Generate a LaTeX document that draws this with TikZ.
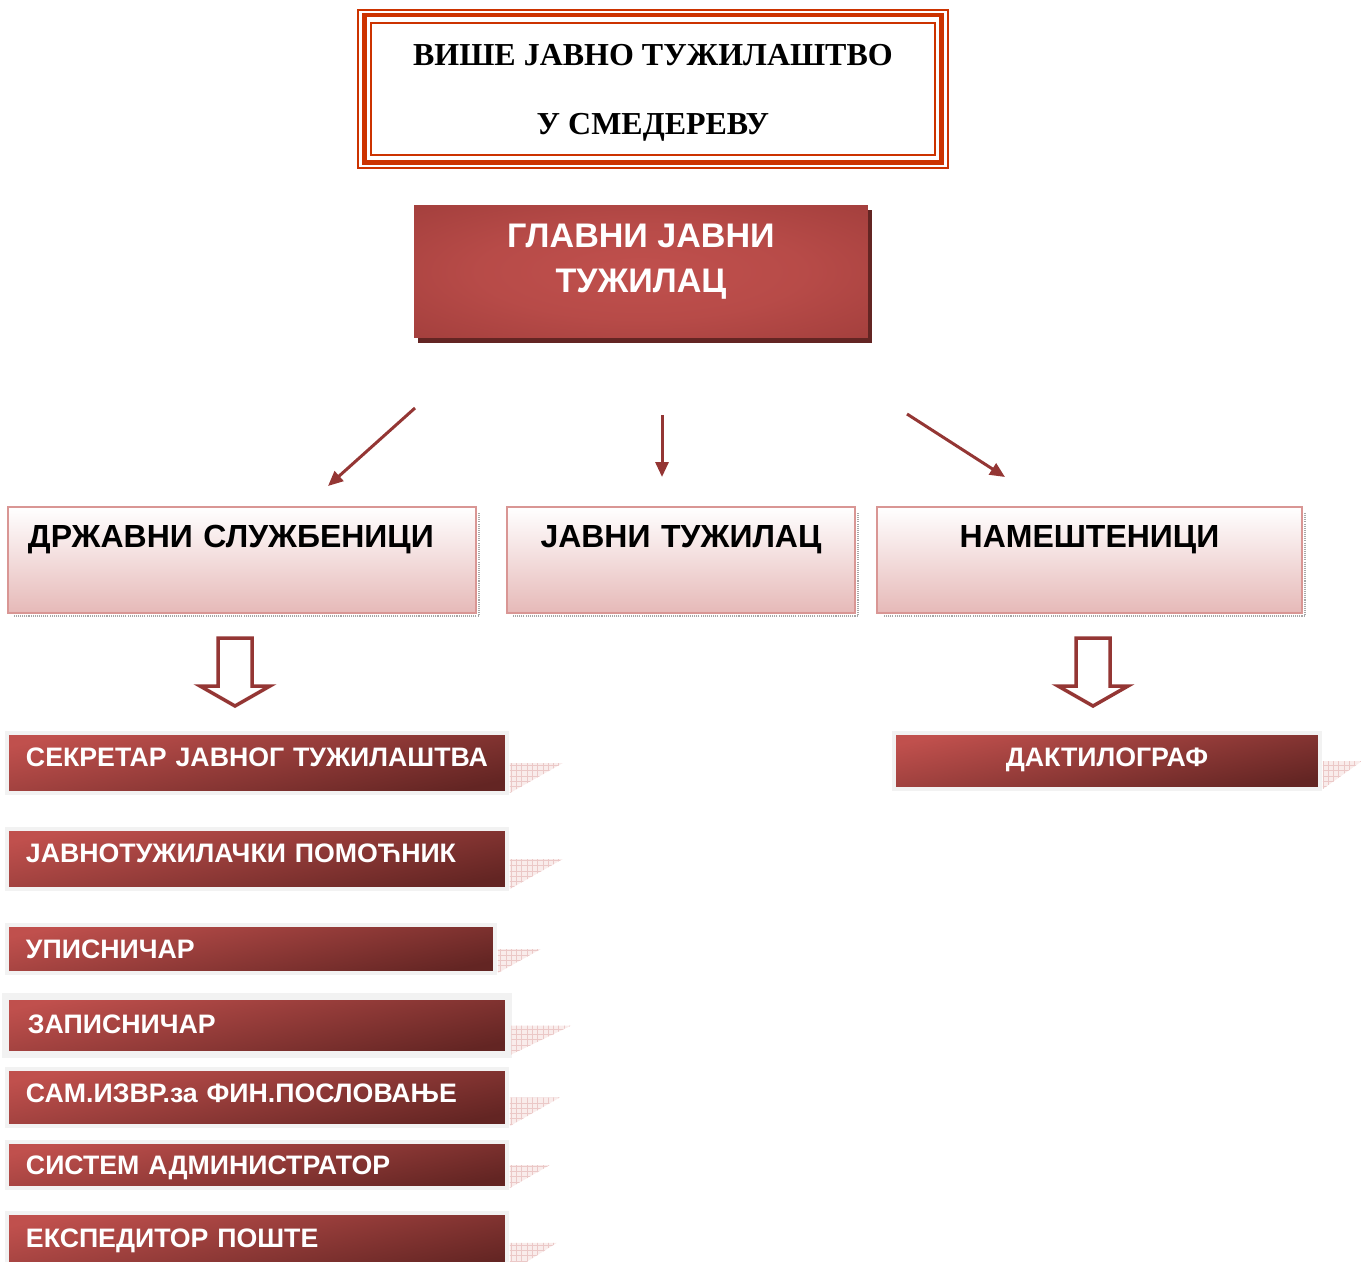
\documentclass[tikz,border=0pt]{standalone}
\usepackage{fontspec}
\setmainfont{Liberation Serif}
\setsansfont{Liberation Sans}
\usetikzlibrary{arrows.meta,calc,patterns,shadows}

\definecolor{titlered}{HTML}{CC3300}
\definecolor{chieflight}{HTML}{C0504D}
\definecolor{chiefdark}{HTML}{943634}
\definecolor{chiefshadow}{HTML}{632523}
\definecolor{groupbottom}{HTML}{E6B9B8}
\definecolor{groupedge}{HTML}{D99694}
\definecolor{barframe}{HTML}{F2F2F2}
\definecolor{foldfill}{HTML}{F9ECEB}
\definecolor{foldgrid}{HTML}{EBC8C7}

\pgfdeclareradialshading{chiefglow}{\pgfpoint{0bp}{0bp}}{color(0bp)=(chieflight); color(18bp)=(chieflight!80!chiefdark); color(50bp)=(chiefdark)}

\tikzset{
  every node/.append style={outer sep=0pt},
  titlebox/.style={draw=titlered, line width=0.1cm, minimum width=11.56cm, anchor=north west,
    inner ysep=0pt, text height=1.58cm, text depth=1.38cm, font=\bfseries\fontsize{18.2}{39}\selectfont},
  titleline/.style={draw=titlered, line width=0.035cm},
  chiefbox/.style={shading=chiefglow, minimum width=9.08cm, anchor=north west, inner ysep=0pt,
    text height=1.30cm, text depth=1.36cm, text=white, font=\sffamily\bfseries\fontsize{19.4}{25.5}\selectfont,
    drop shadow={shadow xshift=0.08cm, shadow yshift=-0.1cm, fill=chiefshadow, opacity=1}},
  groupbox/.style={draw=groupedge, line width=0.05cm, top color=white, bottom color=groupbottom,
    anchor=north west, inner ysep=0pt, text height=0.81cm, text depth=1.31cm,
    font=\sffamily\bfseries\fontsize{18.2}{22}\selectfont},
  groupshadow/.style={draw=gray!70, line width=0.04cm, dash pattern=on 0.6pt off 0.6pt},
  rolebar/.style={draw=barframe, line width=0.08cm, top color=chieflight, bottom color=chiefshadow,
    shading angle=12, anchor=north west, inner xsep=0.38cm, inner ysep=0pt, text width=9.24cm,
    text height=0.67cm, align=left, text=white, font=\sffamily\bfseries\fontsize{15.2}{17}\selectfont},
  fold/.style={preaction={fill=foldfill}, pattern=grid, pattern color=foldgrid},
  linkarrow/.style={draw=chiefdark, line width=0.06cm, -{Triangle[length=0.3cm,width=0.26cm]}},
  blockarrow/.style={draw=chiefdark, line width=0.07cm, fill=white, line join=miter}
}

\begin{document}
\begin{tikzpicture}[x=0.02cm, y=-0.02cm]
  \useasboundingbox (0,0) rectangle (1361,1261);

  % Title
  \node[titlebox] (title) at (364,15) {\begin{tabular}{@{}c@{}}ВИШЕ ЈАВНО ТУЖИЛАШТВО\\У СМЕДЕРЕВУ\end{tabular}};
  \draw[titleline] ($(title.north west)+(-6,-5)$) rectangle ($(title.south east)+(6,5)$);
  \draw[titleline] ($(title.north west)+(7,8)$) rectangle ($(title.south east)+(-7,-8)$);

  % Head
  \node[chiefbox] (chief) at (414,205) {\begin{tabular}{@{}c@{}}ГЛАВНИ ЈАВНИ\\ТУЖИЛАЦ\end{tabular}};

  % Groups
  \node[groupbox, text width=8.56cm, inner xsep=0.4cm, align=left] (civil) at (8,507) {ДРЖАВНИ СЛУЖБЕНИЦИ};
  \node[groupbox, text width=6.16cm, inner xsep=0.4cm, align=center] (deputy) at (507,507) {ЈАВНИ ТУЖИЛАЦ};
  \node[groupbox, text width=7.7cm, inner xsep=0.4cm, align=center] (staff) at (877,507) {НАМЕШТЕНИЦИ};
  \foreach \grp in {civil,deputy,staff}
    \draw[groupshadow] ($(\grp.north east)+(3,6)$) -- ($(\grp.south east)+(3,3)$) -- ($(\grp.south west)+(6,3)$);

  % Arrows
  \coordinate (l1) at (415,408);
  \coordinate (l2) at (328,486);
  \coordinate (m1) at (662,415);
  \coordinate (m2) at (662,477);
  \coordinate (r1) at (907,414);
  \coordinate (r2) at (1005,477);
  \draw[linkarrow] (l1) -- (l2);
  \draw[linkarrow] (m1) -- (m2);
  \draw[linkarrow] (r1) -- (r2);

  % Block arrows
  \foreach \cx in {235,1093}
    \draw[blockarrow] (\cx-17,638) -- (\cx+17,638) -- (\cx+17,686) -- (\cx+35,686)
      -- (\cx,706) -- (\cx-35,686) -- (\cx-17,686) -- cycle;

  % Roles
  \node[rolebar, text depth=0.53cm] (secretary) at (7,733) {СЕКРЕТАР ЈАВНОГ ТУЖИЛАШТВА};
  \node[rolebar, text depth=0.53cm] (assistant) at (7,829) {ЈАВНОТУЖИЛАЧКИ ПОМОЋНИК};
  \node[rolebar, text depth=0.29cm, text width=9cm] (registrar) at (7,925) {УПИСНИЧАР};
  \node[rolebar, line width=0.14cm, inner xsep=0.45cm, text width=9.16cm, text height=0.74cm,
    text depth=0.42cm] (recorder) at (5.5,996.5) {ЗАПИСНИЧАР};
  \node[rolebar, text depth=0.47cm] (finance) at (7,1069) {САМ.ИЗВР.за ФИН.ПОСЛОВАЊЕ};
  \node[rolebar, text height=0.65cm, text depth=0.27cm] (sysadmin) at (7,1142) {СИСТЕМ АДМИНИСТРАТОР};
  \node[rolebar, text height=0.69cm, text depth=0.5cm] (courier) at (7,1213) {ЕКСПЕДИТОР ПОШТЕ};
  \node[rolebar, text depth=0.45cm, text width=7.76cm, align=center] (typist) at (894,733) {ДАКТИЛОГРАФ};

  % Folds
  \foreach \role/\len in {secretary/53, assistant/53, registrar/43, recorder/60, finance/50, sysadmin/40, courier/47, typist/39}
    \path[fold] ($(\role.east)+(3,0)$) -- ++(\len,0) -- ($(\role.south east)+(3,0)$) -- cycle;
\end{tikzpicture}
\end{document}
